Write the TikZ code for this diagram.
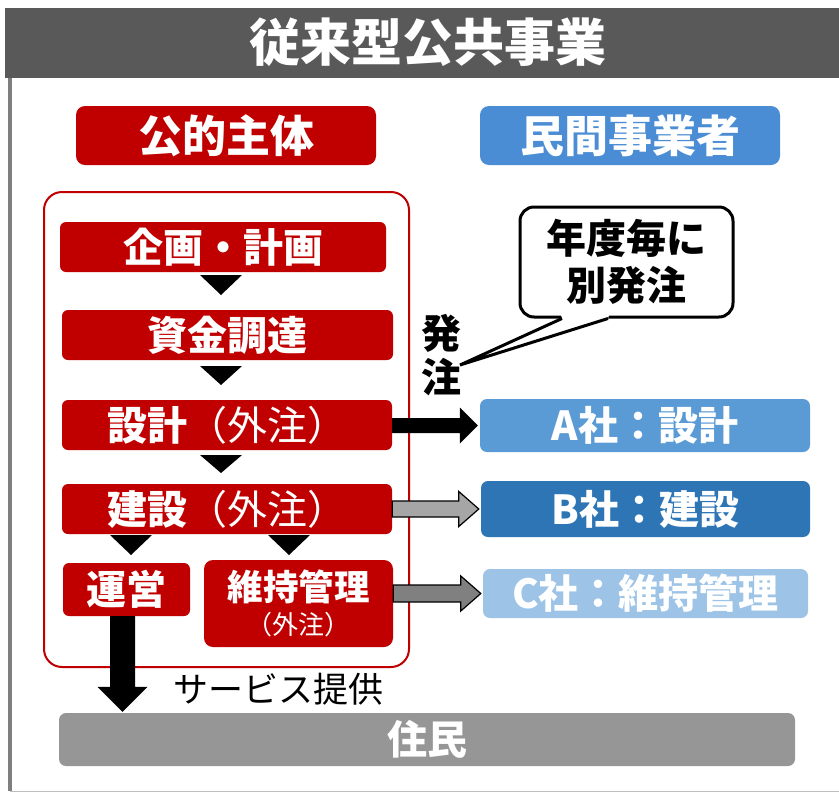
\documentclass[tikz,border=0pt]{standalone}
\usepackage{fontspec}
\setmainfont{Noto Sans CJK JP}
\usetikzlibrary{calc}
\definecolor{dred}{HTML}{C00000}
\definecolor{titlegray}{HTML}{595959}
\definecolor{framegray}{HTML}{7F7F7F}
\definecolor{minkanblue}{HTML}{4A8DD4}
\definecolor{ablue}{HTML}{5B9BD5}
\definecolor{bblue}{HTML}{2E75B6}
\definecolor{cblue}{HTML}{9DC3E6}
\definecolor{jumingray}{HTML}{969696}
\definecolor{arrowlight}{HTML}{A6A6A6}
\definecolor{arrowmid}{HTML}{808080}
\newcommand\blockarr[6]{%
  \path let \p1=(#1.east), \p2=(#2.west) in [#6]
    (\x1,\y2+#3) -- (\x2-2pt-#5,\y2+#3) -- (\x2-2pt-#5,\y2+#4) -- (\x2-2pt,\y2)
    -- (\x2-2pt-#5,\y2-#4) -- (\x2-2pt-#5,\y2-#3) -- (\x1,\y2-#3) -- cycle;}
\tikzset{
  bigfont/.style={font=\fontsize{40}{42}\selectfont\bfseries},
  headfont/.style={font=\fontsize{44}{46}\selectfont\bfseries},
  redbox/.style={fill=dred, rounded corners=6pt, text=white, inner sep=0pt, align=center, bigfont},
  bluebox/.style={rounded corners=7pt, text=white, inner sep=0pt, align=center, bigfont},
  tri/.style={fill=black},
}
\begin{document}
\begin{tikzpicture}[x=1pt,y=-1pt]
\useasboundingbox (0,0) rectangle (839,793);
% frame
\fill[titlegray] (5,8) rectangle (839,78);
\draw[framegray, line width=4pt] (10,78) -- (10,791);
\draw[gray!50, line width=1pt] (10,791.5) -- (839,791.5);
\node[text=white, font=\fontsize{51}{53}\selectfont\bfseries] (title) at (428,42) {従来型公共事業};
% headers
\node[redbox, headfont, rounded corners=9pt, minimum width=300pt, minimum height=59pt] (kouteki) at (226,135.5) {公的主体};
\node[bluebox, headfont, fill=minkanblue, rounded corners=9pt, minimum width=300pt, minimum height=59pt] (minkan) at (630,135.5) {民間事業者};
% big outline
\draw[dred, line width=2pt, rounded corners=18pt] (44,192) rectangle (409,667);
% flow boxes
\node[redbox, minimum width=326pt, minimum height=50pt] (kikaku) at (223,247) {企画・計画};
\node[redbox, minimum width=331pt, minimum height=50pt] (shikin) at (227.5,335) {資金調達};
\node[redbox, minimum width=330pt, minimum height=50pt] (sekkei) at (227,425) {設計{\mdseries（外注）}};
\node[redbox, minimum width=330pt, minimum height=50pt] (kensetsu) at (227,509) {建設{\mdseries（外注）}};
\node[redbox, minimum width=127pt, minimum height=53pt] (unei) at (126.5,589.5) {運営};
\node[redbox, minimum width=189pt, minimum height=87pt, rounded corners=9pt, font=\fontsize{35.5}{37}\selectfont\bfseries] (iji) at (298.5,603.5) {維持管理\\[-3pt]{\fontsize{26}{28}\selectfont\mdseries（外注）}};
% triangles
\fill[tri] (200,275) -- (242,275) -- (221,295) -- cycle;
\fill[tri] (200,366) -- (242,366) -- (221,385) -- cycle;
\fill[tri] (200,455) -- (242,455) -- (221,473) -- cycle;
\fill[tri] (110,535) -- (152,535) -- (131,555) -- cycle;
\fill[tri] (268,535) -- (310,535) -- (289,555) -- cycle;
% companies
\node[bluebox, fill=ablue, minimum width=330pt, minimum height=53pt] (A) at (645,425.5) {A社：設計};
\node[bluebox, fill=bblue, minimum width=329pt, minimum height=56pt] (B) at (645.5,509) {B社：建設};
\node[bluebox, fill=cblue, minimum width=325pt, minimum height=49pt] (C) at (645.5,593.5) {C社：維持管理};
% arrows
\blockarr{sekkei}{A}{7.5pt}{18pt}{18pt}{fill=black}
\blockarr{kensetsu}{B}{8pt}{17.5pt}{20pt}{fill=arrowlight, draw=black, line width=1.2pt}
\blockarr{iji}{C}{8.5pt}{17.5pt}{20pt}{fill=arrowmid, draw=black, line width=1.2pt}
% residents
\node[fill=jumingray, rounded corners=7pt, minimum width=736pt, minimum height=53pt, text=white, bigfont, inner sep=0pt] (jumin) at (427,739.5) {住民};
\path let \p1=(unei.south), \p2=(jumin.north) in [fill=black]
  (\x1-16.5pt,\y1) -- (\x1+8.5pt,\y1) -- (\x1+8.5pt,\y2+26pt) -- (\x1+21pt,\y2+26pt)
  -- (\x1-4pt,\y2+1pt) -- (\x1-29pt,\y2+26pt) -- (\x1-16.5pt,\y2+26pt) -- cycle;
\node[font=\fontsize{35}{37}\selectfont, inner sep=0pt] (service) at (278,689) {サービス提供};
% order label and callout
\node[font=\fontsize{40}{44}\selectfont\bfseries, align=center, inner sep=0pt] (hatchu) at (441,355) {発\\注};
\node[draw=black, line width=3pt, fill=white, rounded corners=14pt, minimum width=213pt, minimum height=110pt, inner sep=0pt, align=center, font=\fontsize{40}{47}\selectfont\bfseries] (callout) at (626.5,262) {年度毎に\\別発注};
\coordinate (ptr) at (460,365);
\fill[white] ($(callout.south)+(-66,-5)$) -- ($(callout.south)+(-64.5,0)$) -- (ptr) -- ($(callout.south)+(-18.5,0)$) -- ($(callout.south)+(-17,-5)$) -- cycle;
\draw[line width=3pt, line join=miter] ($(callout.south)+(-64.5,0)$) -- (ptr) -- ($(callout.south)+(-18.5,0)$);
\end{tikzpicture}
\end{document}
